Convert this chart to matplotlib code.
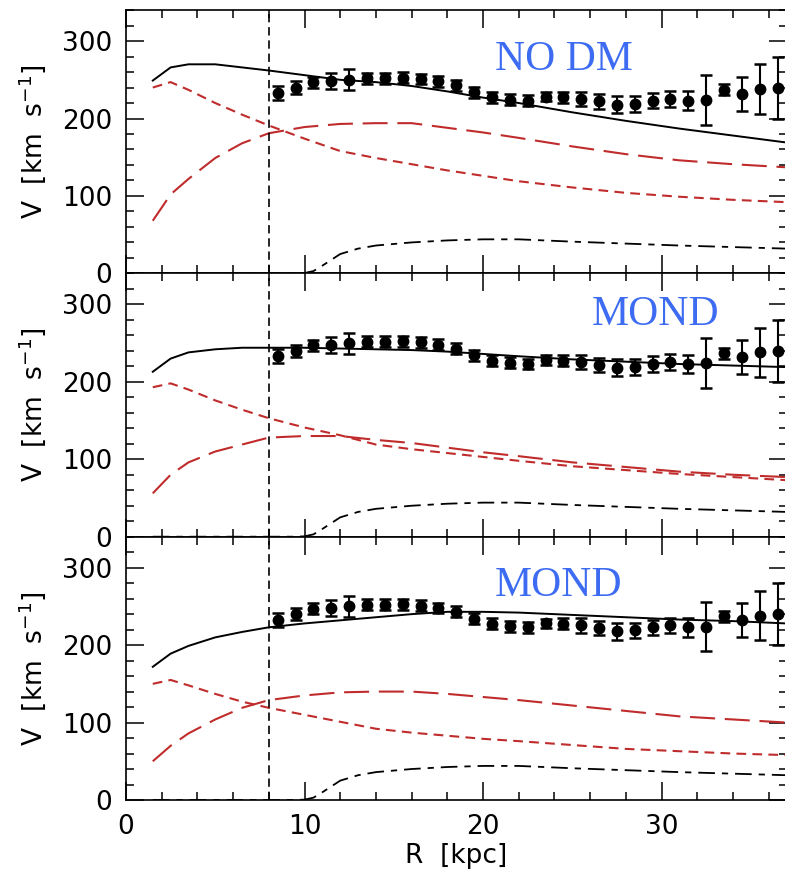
import matplotlib
matplotlib.use("Agg")
import matplotlib.pyplot as plt
from matplotlib.ticker import MultipleLocator

plt.rcParams["font.family"] = ["DejaVu Sans"]
plt.rcParams["lines.scale_dashes"] = False

# Observed Milky Way rotation curve
R_obs = [8.5, 9.5, 10.5, 11.5, 12.5, 13.5, 14.5, 15.5, 16.5, 17.5, 18.5, 19.5,
         20.5, 21.5, 22.5, 23.5, 24.5, 25.5, 26.5, 27.5, 28.5, 29.5, 30.5, 31.5,
         32.5, 33.5, 34.5, 35.5, 36.5]
V_obs = [233, 240, 247, 248, 250, 252, 252, 252.5, 251, 248, 243, 234,
         227.5, 224.5, 223, 228, 227.5, 225.5, 222, 218, 219, 223, 225.5, 223,
         224, 237, 232, 238, 240]
V_err = [9, 8, 7, 10.5, 13.5, 7, 7, 7, 7, 7, 7, 7,
         7, 7, 7, 6, 7, 9.3, 9.3, 11, 10, 10, 10, 12,
         32, 7, 22, 32, 40]

# Model radii
R_mod = [1.5, 2.5, 3.5, 5, 6.5, 8, 10, 12, 14, 16, 18, 20, 22, 25, 28, 31, 34, 37]

# Newtonian, no dark matter
v_tot_nodm = [249, 266, 270, 270, 266, 262, 256, 250, 247, 242, 235, 227, 220, 208, 197, 187, 178, 169]
v_bulge_nodm = [240, 247, 237, 220, 205, 191, 174, 158, 149, 141, 133, 126, 119, 111, 104, 99, 95, 92]
v_disk_nodm = [68, 102, 122, 149, 168, 181, 189, 193, 194, 194, 188, 182, 175, 164, 154, 146, 141, 137]

# MOND, first model
v_tot_mond1 = [213, 230, 238, 242, 244, 244, 244, 243, 242, 241, 239, 236, 233, 229, 226, 223, 221, 219]
v_bulge_mond1 = [193, 198, 190, 176, 164, 153, 141, 131, 119, 113, 108, 103, 98, 91, 86, 81, 77, 73]
v_disk_mond1 = [56, 80, 96, 110, 119, 128, 130, 130, 125, 121, 115, 109, 104, 96, 90, 84, 80, 77]

# MOND, second model
v_tot_mond2 = [172, 189, 199, 210, 217, 223, 228, 232, 236, 240, 243, 243, 242, 239, 236, 233, 231, 228]
v_bulge_mond2 = [150, 155, 148, 137, 127, 119, 110, 101, 92, 87, 83, 79, 76, 71, 66, 63, 60, 58]
v_disk_mond2 = [50, 70, 86, 104, 119, 129, 135, 139, 140, 140, 137, 133, 129, 122, 115, 108, 104, 100]

# Gas component (same in all panels)
R_gas = [1.5, 9.5, 10.0, 10.5, 11, 12, 13, 14, 16, 18, 20, 22, 25, 28, 31, 34, 37]
v_gas = [0, 0, 0.5, 3, 10, 25, 32, 36, 40, 42.6, 44, 44, 41, 38.5, 36, 34, 32]

R_sun = 8.0

panel_titles = ["NO DM", "MOND", "MOND"]
title_pos = [(20.67, 263), (26.1, 274), (20.67, 264)]
models = [
    (v_tot_nodm, v_bulge_nodm, v_disk_nodm),
    (v_tot_mond1, v_bulge_mond1, v_disk_mond1),
    (v_tot_mond2, v_bulge_mond2, v_disk_mond2),
]

RED = "#c02c2c"
BLUE = "#3d6cf2"
FS = 19

fig = plt.figure(figsize=(7.85, 8.69), dpi=100)
left = 126 / 785
width = 660.5 / 785
ph = 263.3 / 869
bottom0 = 69 / 869

for i, (vt, vb, vd) in enumerate(models):
    b = bottom0 + (2 - i) * ph
    ax = fig.add_axes([left, b, width, ph])

    ax.plot(R_mod, vt, color="black", lw=1.4, zorder=3)
    ax.plot(R_mod, vb, color=RED, lw=1.5, linestyle=(0, (7, 4.5)), zorder=2)
    ax.plot(R_mod, vd, color=RED, lw=1.5, linestyle=(0, (18, 7)), zorder=2)
    ax.plot(R_gas, v_gas, color="black", lw=1.3, linestyle=(0, (12, 5, 4.5, 5)), zorder=2)
    ax.axvline(R_sun, color="black", lw=1.2, linestyle=(0, (6, 3.5)), zorder=2)

    ax.errorbar(R_obs, V_obs, yerr=V_err, fmt="o", color="black", ms=7.5,
                capsize=4.3, elinewidth=1.5, capthick=1.8, zorder=5)

    tx, ty = title_pos[i]
    ax.text(tx, ty, panel_titles[i], color=BLUE, fontsize=30,
            family="Liberation Serif", ha="left", va="baseline")

    ax.set_xlim(0, 37)
    ax.set_ylim(0, 340)
    ax.xaxis.set_major_locator(MultipleLocator(10))
    ax.xaxis.set_minor_locator(MultipleLocator(2))
    ax.yaxis.set_major_locator(MultipleLocator(100))
    ax.yaxis.set_minor_locator(MultipleLocator(20))
    ax.tick_params(which="both", direction="in", top=True, right=True,
                   width=1.1, labelsize=FS)
    ax.tick_params(which="major", length=13, pad=10)
    ax.tick_params(which="minor", length=6)
    for sp in ax.spines.values():
        sp.set_linewidth(1.2)

    ax.set_ylabel(r"V  [km  s$^{-1}$]", fontsize=FS, labelpad=10)
    if i < 2:
        ax.tick_params(labelbottom=False)
    else:
        ax.set_xlabel("R  [kpc]", fontsize=FS, labelpad=2)

fig.savefig("out.png", dpi=100)
